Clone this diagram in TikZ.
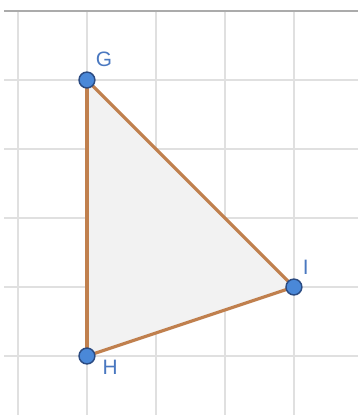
\documentclass[tikz,border=0pt]{standalone}
\usepackage{fontspec}
\setmainfont{Liberation Sans}
\usepackage{tikz}
\usetikzlibrary{positioning}

\definecolor{rasterg}{HTML}{E0E0E0}
\definecolor{randg}{HTML}{ABABAB}
\definecolor{seitef}{HTML}{C0804E}
\definecolor{punktb}{HTML}{4A88D8}
\definecolor{punktr}{HTML}{2B4B82}
\definecolor{textb}{HTML}{4A78C0}

\begin{document}
\begin{tikzpicture}[
raster/.style={rasterg, line width=0.5pt},
seite/.style={seitef, line width=1.3pt, line cap=round},
punkt/.style={circle, fill=punktb, draw=punktr, line width=0.6pt, inner sep=0pt, minimum size=0.23cm},
bez/.style={textb, font=\fontsize{8.6}{10}\selectfont, inner sep=1pt},
node distance=0.12cm
]
\useasboundingbox (-0.26,-0.855) rectangle (4.93,5.16);
\draw[raster, step=1cm] (-0.2,-0.86) grid (4.93,5);
\draw[randg, line width=0.6pt] (-0.2,5) -- (4.93,5);
% Ecken
\coordinate (g) at (1,4);
\coordinate (h) at (1,0);
\coordinate (i) at (4,1);
\fill[black!5] (g) -- (h) -- (i) -- cycle;
\draw[seite] (g) -- (h);
\draw[seite] (h) -- (i);
\draw[seite] (i) -- (g);
\node[punkt] (G) at (g) {};
\node[punkt] (H) at (h) {};
\node[punkt] (I) at (i) {};
\node[bez, above right=0.06cm and 0cm of G] (lG) {G};
\node[bez, right=0.06cm of H, yshift=-0.16cm] (lH) {H};
\node[bez, above right=0.05cm and 0cm of I] (lI) {I};
\end{tikzpicture}
\end{document}
